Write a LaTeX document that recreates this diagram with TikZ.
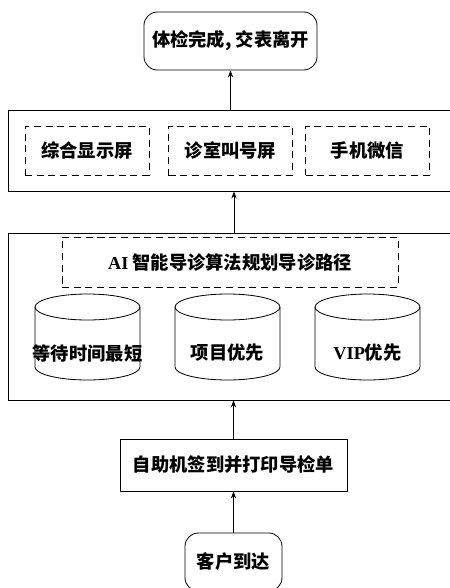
\documentclass[tikz,border=0pt]{standalone}
\usepackage{fontspec}
\setmainfont{Noto Sans CJK SC}
\newfontfamily\tms{Liberation Serif}
\usetikzlibrary{arrows.meta}

\begin{document}
\begin{tikzpicture}[x=0.03cm, y=-0.03cm, >={Stealth[length=6pt,width=4.5pt]},
  line width=0.7pt,
  font=\fontsize{15.6pt}{18pt}\selectfont\bfseries,
  roundbox/.style={draw, rounded corners=0.4cm, minimum width=5.19cm, minimum height=1.74cm},
  framebox/.style={draw, minimum width=13.56cm},
  showbox/.style={draw, dash pattern=on 6pt off 4pt, minimum width=3.72cm, minimum height=1.47cm},
  stepbox/.style={draw, minimum width=6.81cm, minimum height=1.56cm}]
  \useasboundingbox (0,0) rectangle (450,588);

  % end of the visit
  \node[roundbox] (done) at (230.5,41) {体检完成, 交表离开};

  % screens
  \node[framebox, minimum height=2.43cm] (screens) at (234,150.5) {};
  \node[showbox] (big)    at (87,150.5)    {综合显示屏};
  \node[showbox] (room)   at (230.5,150.5) {诊室叫号屏};
  \node[showbox] (phone)  at (367.5,150.5) {手机微信};

  % routing
  \node[framebox, minimum height=5.01cm] (route) at (234,316.5) {};
  \node[showbox, minimum width=10.08cm, minimum height=1.5cm] (ai) at (230,262)
    {{\tms AI} 智能导诊算法规划导诊路径};
  \foreach \cx/\nm/\txt in {87.5/wait/等待时间最短, 227.5/item/项目优先, 367.5/vip/{{\tms VIP}优先}} {
    \draw (\cx-52.5,307) -- (\cx-52.5,367)
      arc[start angle=180, end angle=0, x radius=52.5, y radius=13]
      -- (\cx+52.5,307);
    \draw (\cx,307) ellipse[x radius=52.5, y radius=13];
    \node (\nm) at (\cx,353) {\txt};
  }

  % check-in
  \node[stepbox] (sign) at (233.5,465) {自助机签到并打印导检单};
  \node[roundbox, minimum width=2.91cm] (arrive) at (233.5,562) {客户到达};

  % flow
  \draw[->] (arrive.north) -- (sign.north |- sign.south);
  \draw[->] (sign.north) -- (sign.north |- route.south);
  \draw[->] (route.north) -- (route.north |- screens.south);
  \draw[->] (screens.north -| done.south) -- (done.south);
\end{tikzpicture}
\end{document}
